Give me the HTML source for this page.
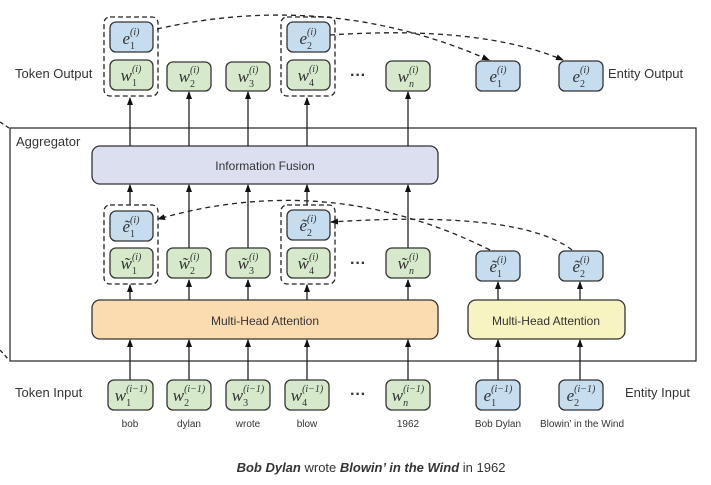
<!DOCTYPE html>
<html><head><meta charset="utf-8"><style>
html,body{margin:0;padding:0;background:#fff;width:711px;height:485px;overflow:hidden}
svg{display:block}
.s{font-family:"Liberation Sans",sans-serif;fill:#333}
.m{font-family:"Liberation Serif",serif;font-style:italic;fill:#333}
.u{font-style:normal}
</style></head><body>
<svg width="711" height="485" viewBox="0 0 711 485" xmlns="http://www.w3.org/2000/svg">
<defs>
<marker id="a" markerWidth="8" markerHeight="8" refX="7" refY="4" orient="auto" markerUnits="userSpaceOnUse">
<path d="M0,1 L8,4 L0,7 z" fill="#111"/></marker>
</defs>
<g fill="none" stroke="#222" stroke-width="1.3">
<rect x="10" y="128" width="686" height="233" stroke-width="1.2"/>
<path d="M0,122 L9,128 M0,350 L9,360" stroke-dasharray="4,3"/>
</g>
<text class="s" x="16" y="146" font-size="13">Aggregator</text>
<rect x="92" y="146" width="346" height="38" rx="8" fill="#dcdff0" stroke="#333" stroke-width="1.3"/>
<text class="s" x="265" y="170" font-size="12" text-anchor="middle">Information Fusion</text>
<rect x="92" y="300" width="346" height="39" rx="8" fill="#fbdcb0" stroke="#333" stroke-width="1.3"/>
<text class="s" x="265" y="325" font-size="12" text-anchor="middle">Multi-Head Attention</text>
<rect x="468" y="300" width="157" height="39" rx="8" fill="#f7f4c2" stroke="#333" stroke-width="1.3"/>
<text class="s" x="546" y="325" font-size="12" text-anchor="middle">Multi-Head Attention</text>

<g stroke="#222" stroke-width="1.3" marker-end="url(#a)">
<line x1="130" y1="146" x2="130" y2="98"/><line x1="189" y1="146" x2="189" y2="92"/><line x1="248" y1="146" x2="248" y2="92"/><line x1="307" y1="146" x2="307" y2="98"/><line x1="408" y1="146" x2="408" y2="92"/>
<line x1="130" y1="205" x2="130" y2="185"/><line x1="189" y1="248" x2="189" y2="185"/><line x1="248" y1="248" x2="248" y2="185"/><line x1="307" y1="205" x2="307" y2="185"/><line x1="408" y1="248" x2="408" y2="185"/>
<line x1="130" y1="300" x2="130" y2="285"/><line x1="189" y1="300" x2="189" y2="280"/><line x1="248" y1="300" x2="248" y2="280"/><line x1="307" y1="300" x2="307" y2="285"/><line x1="408" y1="300" x2="408" y2="280"/>
<line x1="498" y1="300" x2="498" y2="282"/><line x1="580" y1="300" x2="580" y2="282"/>
<line x1="130" y1="380" x2="130" y2="340"/><line x1="189" y1="380" x2="189" y2="340"/><line x1="248" y1="380" x2="248" y2="340"/><line x1="307" y1="380" x2="307" y2="340"/><line x1="408" y1="380" x2="408" y2="340"/>
<line x1="498" y1="380" x2="498" y2="340"/><line x1="580" y1="380" x2="580" y2="340"/>
</g>
<g fill="none" stroke="#222" stroke-width="1.3" stroke-dasharray="5,4" marker-end="url(#a)">
<path d="M157,29 Q330,-10 489,60"/>
<path d="M330,35 Q480,25 563,60"/>
<path d="M490,250 Q330,170 158,219"/>
<path d="M572,250 Q520,210 331,222"/>
</g>
<g fill="none" stroke="#222" stroke-width="1.3" stroke-dasharray="5,3">
<rect x="104" y="17" width="54" height="79" rx="6"/>
<rect x="281" y="17" width="54" height="79" rx="6"/>
<rect x="104" y="205" width="54" height="79" rx="6"/>
<rect x="281" y="205" width="54" height="79" rx="6"/>
</g>
<g stroke="#333" stroke-width="1.3">
<rect x="110" y="22" width="43" height="30" rx="6" fill="#c6dcef"/>
<rect x="287" y="22" width="43" height="30" rx="6" fill="#c6dcef"/>
<rect x="110" y="60" width="43" height="30" rx="6" fill="#d6eacb"/>
<rect x="167" y="62" width="44" height="29" rx="6" fill="#d6eacb"/>
<rect x="226" y="62" width="44" height="29" rx="6" fill="#d6eacb"/>
<rect x="287" y="60" width="43" height="30" rx="6" fill="#d6eacb"/>
<rect x="386" y="61" width="44" height="30" rx="6" fill="#d6eacb"/>
<rect x="476" y="61" width="44" height="30" rx="6" fill="#c6dcef"/>
<rect x="559" y="61" width="44" height="30" rx="6" fill="#c6dcef"/>
<rect x="110" y="211" width="43" height="30" rx="6" fill="#c6dcef"/>
<rect x="287" y="210" width="43" height="30" rx="6" fill="#c6dcef"/>
<rect x="110" y="248" width="43" height="30" rx="6" fill="#d6eacb"/>
<rect x="167" y="248" width="44" height="30" rx="6" fill="#d6eacb"/>
<rect x="226" y="248" width="44" height="30" rx="6" fill="#d6eacb"/>
<rect x="287" y="248" width="43" height="30" rx="6" fill="#d6eacb"/>
<rect x="386" y="248" width="44" height="30" rx="6" fill="#d6eacb"/>
<rect x="476" y="251" width="44" height="30" rx="6" fill="#c6dcef"/>
<rect x="559" y="251" width="44" height="30" rx="6" fill="#c6dcef"/>
<rect x="108" y="380" width="45" height="30" rx="6" fill="#d6eacb"/>
<rect x="167" y="380" width="44" height="30" rx="6" fill="#d6eacb"/>
<rect x="226" y="380" width="44" height="30" rx="6" fill="#d6eacb"/>
<rect x="285" y="380" width="44" height="30" rx="6" fill="#d6eacb"/>
<rect x="386" y="380" width="44" height="30" rx="6" fill="#d6eacb"/>
<rect x="476" y="380" width="44" height="30" rx="6" fill="#c6dcef"/>
<rect x="559" y="380" width="44" height="30" rx="6" fill="#c6dcef"/>
</g>
<g class="m" font-size="17" text-anchor="middle">
<text x="131" y="44">e<tspan class="u" font-size="10" dy="5">1</tspan><tspan font-size="10" dx="-5" dy="-14">(i)</tspan></text>
<text x="308" y="44">e<tspan class="u" font-size="10" dy="5">2</tspan><tspan font-size="10" dx="-5" dy="-14">(i)</tspan></text>
<text x="131" y="81">w<tspan class="u" font-size="10" dy="5">1</tspan><tspan font-size="10" dx="-5" dy="-14">(i)</tspan></text>
<text x="189" y="82">w<tspan class="u" font-size="10" dy="5">2</tspan><tspan font-size="10" dx="-5" dy="-14">(i)</tspan></text>
<text x="248" y="82">w<tspan class="u" font-size="10" dy="5">3</tspan><tspan font-size="10" dx="-5" dy="-14">(i)</tspan></text>
<text x="308" y="81">w<tspan class="u" font-size="10" dy="5">4</tspan><tspan font-size="10" dx="-5" dy="-14">(i)</tspan></text>
<text x="408" y="82">w<tspan font-size="10" dy="5">n</tspan><tspan font-size="10" dx="-5" dy="-14">(i)</tspan></text>
<text x="498" y="82">e<tspan class="u" font-size="10" dy="5">1</tspan><tspan font-size="10" dx="-5" dy="-14">(i)</tspan></text>
<text x="581" y="82">e<tspan class="u" font-size="10" dy="5">2</tspan><tspan font-size="10" dx="-5" dy="-14">(i)</tspan></text>
<text x="131" y="232">ẽ<tspan class="u" font-size="10" dy="5">1</tspan><tspan font-size="10" dx="-5" dy="-14">(i)</tspan></text>
<text x="308" y="231">ẽ<tspan class="u" font-size="10" dy="5">2</tspan><tspan font-size="10" dx="-5" dy="-14">(i)</tspan></text>
<text x="131" y="269">w̃<tspan class="u" font-size="10" dy="5">1</tspan><tspan font-size="10" dx="-5" dy="-14">(i)</tspan></text>
<text x="189" y="269">w̃<tspan class="u" font-size="10" dy="5">2</tspan><tspan font-size="10" dx="-5" dy="-14">(i)</tspan></text>
<text x="248" y="269">w̃<tspan class="u" font-size="10" dy="5">3</tspan><tspan font-size="10" dx="-5" dy="-14">(i)</tspan></text>
<text x="308" y="269">w̃<tspan class="u" font-size="10" dy="5">4</tspan><tspan font-size="10" dx="-5" dy="-14">(i)</tspan></text>
<text x="408" y="269">w̃<tspan font-size="10" dy="5">n</tspan><tspan font-size="10" dx="-5" dy="-14">(i)</tspan></text>
<text x="498" y="272">ẽ<tspan class="u" font-size="10" dy="5">1</tspan><tspan font-size="10" dx="-5" dy="-14">(i)</tspan></text>
<text x="581" y="272">ẽ<tspan class="u" font-size="10" dy="5">2</tspan><tspan font-size="10" dx="-5" dy="-14">(i)</tspan></text>
</g>
<g class="m" font-size="17" text-anchor="middle">
<text x="131" y="401">w<tspan class="u" font-size="10" dy="5">1</tspan><tspan font-size="10" dx="-5" dy="-14">(i−1)</tspan></text>
<text x="189" y="401">w<tspan class="u" font-size="10" dy="5">2</tspan><tspan font-size="10" dx="-5" dy="-14">(i−1)</tspan></text>
<text x="248" y="401">w<tspan class="u" font-size="10" dy="5">3</tspan><tspan font-size="10" dx="-5" dy="-14">(i−1)</tspan></text>
<text x="307" y="401">w<tspan class="u" font-size="10" dy="5">4</tspan><tspan font-size="10" dx="-5" dy="-14">(i−1)</tspan></text>
<text x="408" y="401">w<tspan font-size="10" dy="5">n</tspan><tspan font-size="10" dx="-5" dy="-14">(i−1)</tspan></text>
<text x="498" y="401">e<tspan class="u" font-size="10" dy="5">1</tspan><tspan font-size="10" dx="-5" dy="-14">(i−1)</tspan></text>
<text x="581" y="401">e<tspan class="u" font-size="10" dy="5">2</tspan><tspan font-size="10" dx="-5" dy="-14">(i−1)</tspan></text>
</g>
<g class="s" font-size="16" font-weight="bold" text-anchor="middle">
<text x="358" y="80">···</text><text x="358" y="268">···</text><text x="358" y="399">···</text>
</g>
<g class="s" font-size="13">
<text x="15" y="78">Token Output</text>
<text x="608" y="78">Entity Output</text>
<text x="15" y="397">Token Input</text>
<text x="625" y="397">Entity Input</text>
</g>
<g class="s" font-size="10" text-anchor="middle">
<text x="130" y="427">bob</text><text x="189" y="427">dylan</text><text x="248" y="427">wrote</text><text x="307" y="427">blow</text><text x="408" y="427">1962</text><text x="498" y="427">Bob Dylan</text><text x="582" y="427">Blowin’ in the Wind</text>
</g>
<text class="s" x="371" y="472" font-size="13" text-anchor="middle" fill="#111"><tspan font-weight="bold" font-style="italic">Bob Dylan</tspan> wrote <tspan font-weight="bold" font-style="italic">Blowin’ in the Wind</tspan> in 1962</text>
</svg>
</body></html>
